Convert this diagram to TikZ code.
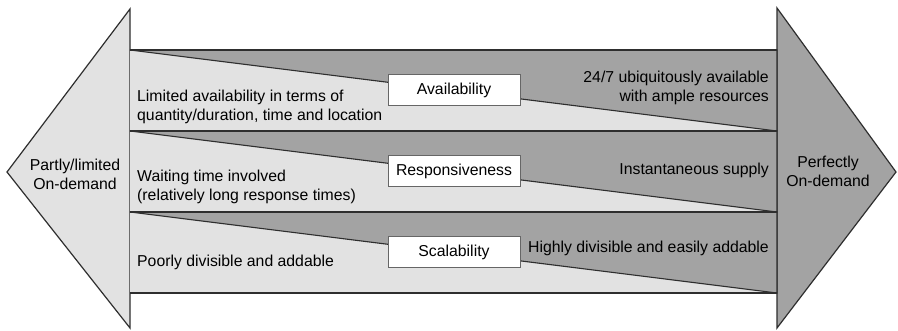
\documentclass[tikz,border=0pt]{standalone}
\usepackage{fontspec}
\setmainfont{Liberation Sans}
\usetikzlibrary{positioning}
\definecolor{lightgr}{HTML}{E2E2E2}
\definecolor{darkgr}{HTML}{A3A3A3}
\definecolor{edgegr}{HTML}{2E2E2E}
\newcommand{\bandat}[1]{
  \fill[lightgr] (130,#1) rectangle (777,#1+81);
  \filldraw[fill=darkgr, draw=edgegr, line width=1.1pt] (130,#1) -- (777,#1) -- (777,#1+81) -- cycle;
  \draw[edgegr, line width=2.4pt] (130,#1) -- (777,#1);
}
\tikzset{
  keybox/.style={draw=black!60, fill=white, line width=1pt, minimum width=132pt, minimum height=31pt, inner sep=0pt},
  lefttxt/.style={anchor=west, align=left, inner sep=0pt},
  righttxt/.style={anchor=east, align=right, inner sep=0pt},
  endtxt/.style={align=center, inner sep=0pt}
}

\begin{document}
\begin{tikzpicture}[x=1pt, y=-1pt, font=\fontsize{15.8pt}{19pt}\selectfont]
\useasboundingbox (0,0) rectangle (898,331);
\fill[white] (0,0) rectangle (898,331);

% the two big arrows
\filldraw[fill=lightgr, draw=edgegr, line width=1.2pt] (130,9) -- (130,328) -- (7,172) -- cycle;
\filldraw[fill=darkgr, draw=edgegr, line width=1.2pt] (777,8) -- (896,172) -- (777,328) -- cycle;

% bands
\bandat{50}
\bandat{131}
\bandat{212}
\draw[edgegr, line width=2.4pt] (130,293) -- (777,293);

\node[keybox] (avail) at (454,90.5) {Availability};
\node[keybox] (resp) at (454,171.5) {Responsiveness};
\node[keybox] (scal) at (454,252.5) {Scalability};

\node[lefttxt] (availlo) at (137,106.5) {Limited availability in terms of\\quantity/duration, time and location};
\node[righttxt] (availhi) at (769,87.5) {24/7 ubiquitously available\\with ample resources};
\node[lefttxt] (resplo) at (137,186.5) {Waiting time involved\\(relatively long response times)};
\node[righttxt] (resphi) at (769,170) {Instantaneous supply};
\node[lefttxt] (scallo) at (137,262) {Poorly divisible and addable};
\node[righttxt] (scalhi) at (769,248) {Highly divisible and easily addable};

\node[endtxt] (partly) at (75,174) {Partly/limited\\On-demand};
\node[endtxt] (perfect) at (828,171) {Perfectly\\On-demand};
\end{tikzpicture}
\end{document}
